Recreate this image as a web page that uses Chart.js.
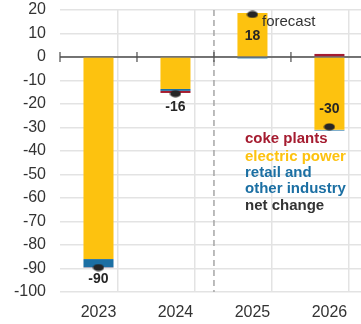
<!DOCTYPE html>
<html>
<head>
<meta charset="utf-8">
<script src="https://cdn.jsdelivr.net/npm/chart.js@4/dist/chart.umd.min.js"></script>
<style>
html,body{margin:0;padding:0;background:#fff;overflow:hidden;width:361px;height:324px;}
canvas{display:block;}
</style>
</head>
<body>
<canvas id="c" width="361" height="324"></canvas>
<script>
const categories = ['2023', '2024', '2025', '2026'];
const electricPower = [-86, -13.6, 18.7, -31.0];
const retailOther = [-3.5, -0.8, -0.6, -0.3];
const cokePlants = [-0.1, -0.9, 0, 1.3];
const netChange = [-89.6, -15.6, 18.1, -29.7];
const yTicks = [20, 10, 0, -10, -20, -30, -40, -50, -60, -70, -80, -90, -100];
const legendLabels = ['coke plants', 'electric power', 'retail and', 'other industry', 'net change'];

const COLORS = { coke: '#A51C30', electric: '#FDC20F', retail: '#1B6FA3', net: '#262626' };
const legendColors = [COLORS.coke, COLORS.electric, COLORS.retail, COLORS.retail, '#333333'];
const labelOffsets = [12, 13, 22, -18];

// plot area runs past the right edge of the picture (last category partly cut off)
const X_MIN = -0.5, X_MAX = 3.41;
const xTickValues = [-0.5, 0, 0.5, 1, 1.5, 2, 2.5, 3, 3.5];

const toXY = arr => arr.map((v, i) => ({ x: i, y: v }));

const dot = document.createElement('canvas');
dot.width = 12; dot.height = 8;
(function(){const g = dot.getContext('2d'); g.fillStyle = COLORS.net; g.beginPath(); g.ellipse(6,4,5.5,3.6,0,0,Math.PI*2); g.fill();})();

const FONT = "'Liberation Sans', Arial, sans-serif";

const overlay = {
  id: 'overlay',
  beforeDatasetsDraw(chart) {
    const {ctx, chartArea: a, scales: {x, y}} = chart;
    ctx.save();
    const dx = x.getPixelForValue(1.5);
    ctx.strokeStyle = '#a6a6a6'; ctx.lineWidth = 1.5; ctx.setLineDash([6, 4]);
    ctx.beginPath(); ctx.moveTo(dx, a.top); ctx.lineTo(dx, a.bottom); ctx.stroke();
    ctx.setLineDash([]);
    const y0 = y.getPixelForValue(0);
    ctx.strokeStyle = '#4d4d4d'; ctx.lineWidth = 1.5;
    ctx.beginPath(); ctx.moveTo(a.left, y0); ctx.lineTo(a.right, y0); ctx.stroke();
    ctx.lineWidth = 1.2;
    for (let i = -0.5; i <= categories.length - 0.5; i += 1) {
      const px = x.getPixelForValue(i);
      ctx.beginPath(); ctx.moveTo(px, y0 - 5); ctx.lineTo(px, y0 + 5); ctx.stroke();
    }
    ctx.restore();
  },
  afterDatasetsDraw(chart) {
    const {ctx} = chart;
    ctx.save();
    const meta = chart.getDatasetMeta(3);
    ctx.font = 'bold 14px ' + FONT;
    ctx.fillStyle = '#262626'; ctx.textAlign = 'center'; ctx.textBaseline = 'middle';
    meta.data.forEach((pt, i) => {
      ctx.fillText(String(Math.round(netChange[i])), pt.x, pt.y + labelOffsets[i]);
    });
    ctx.font = '15px ' + FONT; ctx.fillStyle = '#333'; ctx.textAlign = 'left';
    ctx.fillText('forecast', 262, 22);
    ctx.font = 'bold 15px ' + FONT;
    const ys = [139, 157, 173, 189, 206];
    legendLabels.forEach((t, i) => { ctx.fillStyle = legendColors[i]; ctx.fillText(t, 245, ys[i]); });
    ctx.restore();
  }
};

const barCommon = { type: 'bar', stack: 's', barPercentage: 0.78, categoryPercentage: 1, order: 2 };

new Chart(document.getElementById('c'), {
  type: 'bar',
  data: {
    datasets: [
      { ...barCommon, label: 'electric power', data: toXY(electricPower), backgroundColor: COLORS.electric },
      { ...barCommon, label: 'retail and other industry', data: toXY(retailOther), backgroundColor: COLORS.retail },
      { ...barCommon, label: 'coke plants', data: toXY(cokePlants), backgroundColor: COLORS.coke },
      { type: 'line', label: 'net change', data: toXY(netChange), showLine: false, pointStyle: dot, pointRadius: 6, pointHoverRadius: 6, order: 1 }
    ]
  },
  options: {
    responsive: false,
    animation: false,
    layout: { autoPadding: false, padding: { top: 10, right: 0, left: 0, bottom: 0 } },
    plugins: { legend: { display: false }, tooltip: { enabled: false } },
    scales: {
      x: {
        type: 'linear', stacked: true, offset: false,
        min: X_MIN, max: X_MAX,
        afterBuildTicks: s => { s.ticks = xTickValues.map(v => ({ value: v })); },
        grid: { color: c => (c.tick && Number.isInteger(c.tick.value)) ? 'rgba(0,0,0,0)' : '#e3e3e3', lineWidth: 1.5, drawTicks: false },
        border: { display: false },
        ticks: { color: '#333', font: { family: FONT, size: 16 }, padding: 11, autoSkip: false, maxRotation: 0,
                 callback: v => Number.isInteger(v) ? categories[v] : '' },
        afterFit: s => { s.height = 32; s.paddingLeft = 0; s.paddingRight = 0; }
      },
      y: {
        stacked: true,
        min: -100, max: 20,
        afterBuildTicks: s => { s.ticks = yTicks.map(v => ({ value: v })); },
        grid: { color: '#e3e3e3', lineWidth: 1.5, drawTicks: false },
        border: { display: false },
        ticks: { color: '#333', font: { family: FONT, size: 16 }, padding: 14 },
        afterFit: s => { s.width = 60; s.paddingTop = 0; s.paddingBottom = 0; }
      }
    }
  },
  plugins: [overlay]
});
</script>
</body>
</html>
